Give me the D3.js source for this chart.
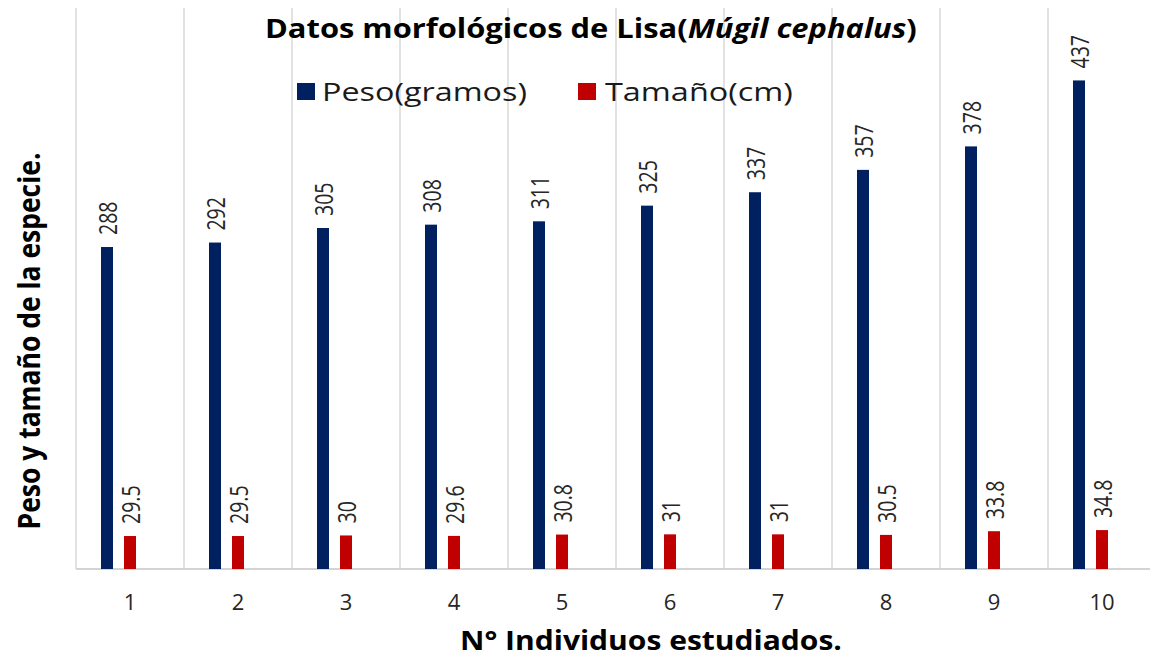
<!DOCTYPE html>
<html>
<head>
<meta charset="utf-8">
<script src="https://cdn.jsdelivr.net/npm/d3@7"></script>
<style>
  body { margin: 0; background: #fff; }
  svg { display: block; font-family: "Open Sans", sans-serif; }
</style>
</head>
<body>
<div id="chart"></div>
<script>
// Data
const individuos = ['1', '2', '3', '4', '5', '6', '7', '8', '9', '10'];
const peso = [288, 292, 305, 308, 311, 325, 337, 357, 378, 437];
const tamano = [29.5, 29.5, 30, 29.6, 30.8, 31, 31, 30.5, 33.8, 34.8];
const seriesNames = ['Peso(gramos)', 'Tamaño(cm)'];
const seriesColors = ['#002060', '#c00000'];

const width = 1150;
const height = 657;

const svg = d3.select('#chart')
  .append('svg')
  .attr('width', width)
  .attr('height', height);

// Scales
const x = d3.scaleBand()
  .domain(individuos)
  .range([76, 1156]);

const x1 = d3.scaleBand()
  .domain(seriesNames)
  .range([25, 60])
  .paddingInner(0.478);

const y = d3.scaleLinear()
  .domain([0, 500])
  .range([569, 10]);

// stretch a text horizontally so it spans the given width
function fitWidth(sel, x0, y0, target, sy) {
  const w = sel.node().getBBox().width;
  sel.attr('transform', `translate(${x0},${y0}) scale(${target / w},${sy || 1})`);
}

// Vertical grid lines between categories
const gridX = individuos.map(d => x(d)).concat([x.range()[1]]);
svg.append('g')
  .selectAll('line')
  .data(gridX)
  .enter()
  .append('line')
  .attr('x1', d => d)
  .attr('x2', d => d)
  .attr('y1', 8)
  .attr('y2', y(0))
  .attr('stroke', '#d9d9d9')
  .attr('stroke-width', 1.5);

// Baseline
svg.append('line')
  .attr('x1', 76)
  .attr('x2', width)
  .attr('y1', y(0))
  .attr('y2', y(0))
  .attr('stroke', '#d4d4d4')
  .attr('stroke-width', 2);

// Bars + labels
const allSeries = [peso, tamano];
allSeries.forEach((values, s) => {
  const g = svg.append('g');
  g.selectAll('rect')
    .data(values)
    .enter()
    .append('rect')
    .attr('x', (d, i) => x(individuos[i]) + x1(seriesNames[s]))
    .attr('y', d => y(d))
    .attr('width', x1.bandwidth())
    .attr('height', d => y(0) - y(d))
    .attr('fill', seriesColors[s]);

  g.selectAll('text')
    .data(values)
    .enter()
    .append('text')
    .attr('transform', (d, i) => {
      const cx = x(individuos[i]) + x1(seriesNames[s]) + x1.bandwidth() / 2 + 1;
      return `translate(${cx},${y(d) - 12}) rotate(-90) scale(1,1.35)`;
    })
    .attr('dy', '0.36em')
    .attr('text-anchor', 'start')
    .attr('font-size', 19.5)
    .attr('fill', '#262626')
    .text(d => d);
});

// X tick labels
svg.append('g')
  .selectAll('text')
  .data(individuos)
  .enter()
  .append('text')
  .attr('x', d => x(d) + x.bandwidth() / 2)
  .attr('y', 610)
  .attr('text-anchor', 'middle')
  .attr('font-size', 22)
  .attr('fill', '#262626')
  .text(d => d);

// Title
const title = svg.append('text')
  .attr('font-size', 26)
  .attr('font-weight', 'bold')
  .attr('fill', '#000');
title.append('tspan').text('Datos morfológicos de Lisa(');
title.append('tspan').attr('font-style', 'italic').text('Múgil cephalus');
title.append('tspan').text(')');
fitWidth(title, 265, 38, 652);

// Legend
const legendItems = [
  { sx: 297, tx: 322, tw: 205 },
  { sx: 578, tx: 605, tw: 188 }
];
legendItems.forEach((it, i) => {
  svg.append('rect')
    .attr('x', it.sx)
    .attr('y', 83)
    .attr('width', 18)
    .attr('height', 17)
    .attr('fill', seriesColors[i]);
  const t = svg.append('text')
    .attr('font-size', 26)
    .attr('fill', '#1a1a1a')
    .text(seriesNames[i]);
  fitWidth(t, it.tx, 101, it.tw);
});

// Y axis title
const yTitle = svg.append('text')
  .attr('font-size', 24)
  .attr('font-weight', 'bold')
  .attr('text-anchor', 'middle')
  .attr('fill', '#000')
  .text('Peso y tamaño de la especie.');
const yw = yTitle.node().getBBox().width;
yTitle.attr('transform', `translate(40,341) rotate(-90) scale(${377 / yw},1.3)`);

// X axis title
const xTitle = svg.append('text')
  .attr('font-size', 27)
  .attr('font-weight', 'bold')
  .attr('fill', '#000')
  .text('N° Individuos estudiados.');
fitWidth(xTitle, 460, 650, 382);
</script>
</body>
</html>
